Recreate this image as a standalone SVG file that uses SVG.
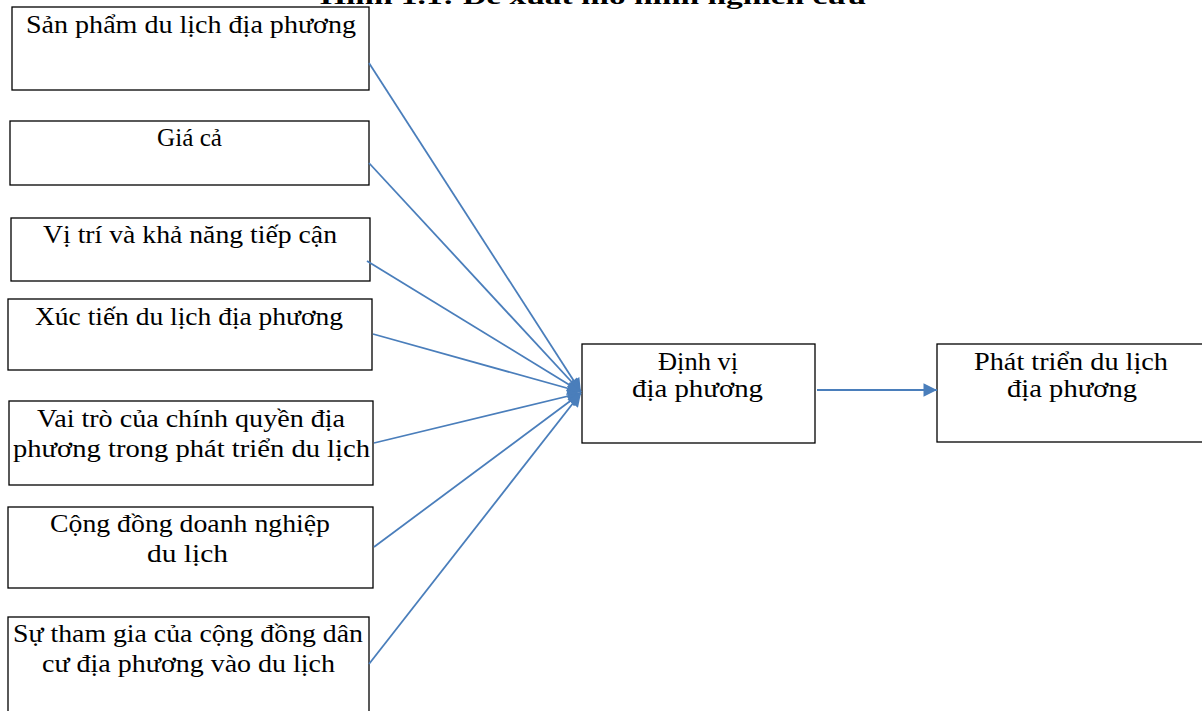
<svg xmlns="http://www.w3.org/2000/svg" width="1202" height="711" viewBox="0 0 1202 711">
  <style>
    .box { fill: #ffffff; stroke: #000000; stroke-width: 1.3; }
    .lbl { font-family: "Liberation Serif", "DejaVu Serif", serif; font-size: 25px; fill: #000000; }
    .title { font-family: "Liberation Serif", "DejaVu Serif", serif; font-size: 23px; font-weight: bold; fill: #000000; }
    .link { stroke: #4a7ebb; stroke-width: 1.8; fill: none; marker-end: url(#head); }
  </style>
  <defs>
    <marker id="head" viewBox="0 0 10 10" refX="10" refY="5" markerWidth="8" markerHeight="7.5" markerUnits="strokeWidth" orient="auto">
      <path d="M0,0 L10,5 L0,10 z" fill="#4a7ebb"/>
    </marker>
  </defs>
  <rect width="1202" height="711" fill="#ffffff"/>

  <text class="title" x="320" y="4" textLength="546" lengthAdjust="spacingAndGlyphs">Hình 1.1: Đề xuất mô hình nghiên cứu</text>

  <!-- factor boxes -->
  <g id="san-pham">
    <rect class="box" x="12" y="7" width="357" height="83"/>
    <text class="lbl" x="26" y="33" textLength="330" lengthAdjust="spacingAndGlyphs">Sản phẩm du lịch địa phương</text>
  </g>
  <g id="gia-ca">
    <rect class="box" x="10" y="121" width="359" height="64"/>
    <text class="lbl" x="157" y="146" textLength="65" lengthAdjust="spacingAndGlyphs">Giá cả</text>
  </g>
  <g id="vi-tri">
    <rect class="box" x="11" y="218" width="359" height="63"/>
    <text class="lbl" x="43" y="243" textLength="294" lengthAdjust="spacingAndGlyphs">Vị trí và khả năng tiếp cận</text>
  </g>
  <g id="xuc-tien">
    <rect class="box" x="8" y="299" width="364" height="71"/>
    <text class="lbl" x="35" y="325" textLength="308" lengthAdjust="spacingAndGlyphs">Xúc tiến du lịch địa phương</text>
  </g>
  <g id="chinh-quyen">
    <rect class="box" x="9" y="401" width="364" height="84"/>
    <text class="lbl" x="37" y="427" textLength="308" lengthAdjust="spacingAndGlyphs">Vai trò của chính quyền địa</text>
    <text class="lbl" x="13" y="457" textLength="357" lengthAdjust="spacingAndGlyphs">phương trong phát triển du lịch</text>
  </g>
  <g id="doanh-nghiep">
    <rect class="box" x="8" y="507" width="365" height="81"/>
    <text class="lbl" x="50" y="532" textLength="280" lengthAdjust="spacingAndGlyphs">Cộng đồng doanh nghiệp</text>
    <text class="lbl" x="147" y="562" textLength="81" lengthAdjust="spacingAndGlyphs">du lịch</text>
  </g>
  <g id="dan-cu">
    <rect class="box" x="8" y="617" width="361" height="110"/>
    <text class="lbl" x="13" y="642" textLength="350" lengthAdjust="spacingAndGlyphs">Sự tham gia của cộng đồng dân</text>
    <text class="lbl" x="42" y="672" textLength="293" lengthAdjust="spacingAndGlyphs">cư địa phương vào du lịch</text>
  </g>

  <!-- central and outcome boxes -->
  <g id="dinh-vi">
    <rect class="box" x="582" y="344" width="233" height="99"/>
    <text class="lbl" x="658" y="370" textLength="80" lengthAdjust="spacingAndGlyphs">Định vị</text>
    <text class="lbl" x="632" y="397" textLength="131" lengthAdjust="spacingAndGlyphs">địa phương</text>
  </g>
  <g id="phat-trien">
    <rect class="box" x="937" y="344" width="270" height="98"/>
    <text class="lbl" x="974" y="370" textLength="194" lengthAdjust="spacingAndGlyphs">Phát triển du lịch</text>
    <text class="lbl" x="1007" y="397" textLength="130" lengthAdjust="spacingAndGlyphs">địa phương</text>
  </g>

  <!-- connectors -->
  <g id="connectors">
    <line class="link" x1="369" y1="63" x2="581" y2="392"/>
    <line class="link" x1="369" y1="163" x2="581" y2="392"/>
    <line class="link" x1="367" y1="261" x2="581" y2="392"/>
    <line class="link" x1="373" y1="334" x2="581" y2="392"/>
    <line class="link" x1="374" y1="443" x2="581" y2="393"/>
    <line class="link" x1="374" y1="547" x2="581" y2="393"/>
    <line class="link" x1="369" y1="664" x2="581" y2="393"/>
    <line class="link" x1="817" y1="390" x2="937" y2="390"/>
  </g>
</svg>
